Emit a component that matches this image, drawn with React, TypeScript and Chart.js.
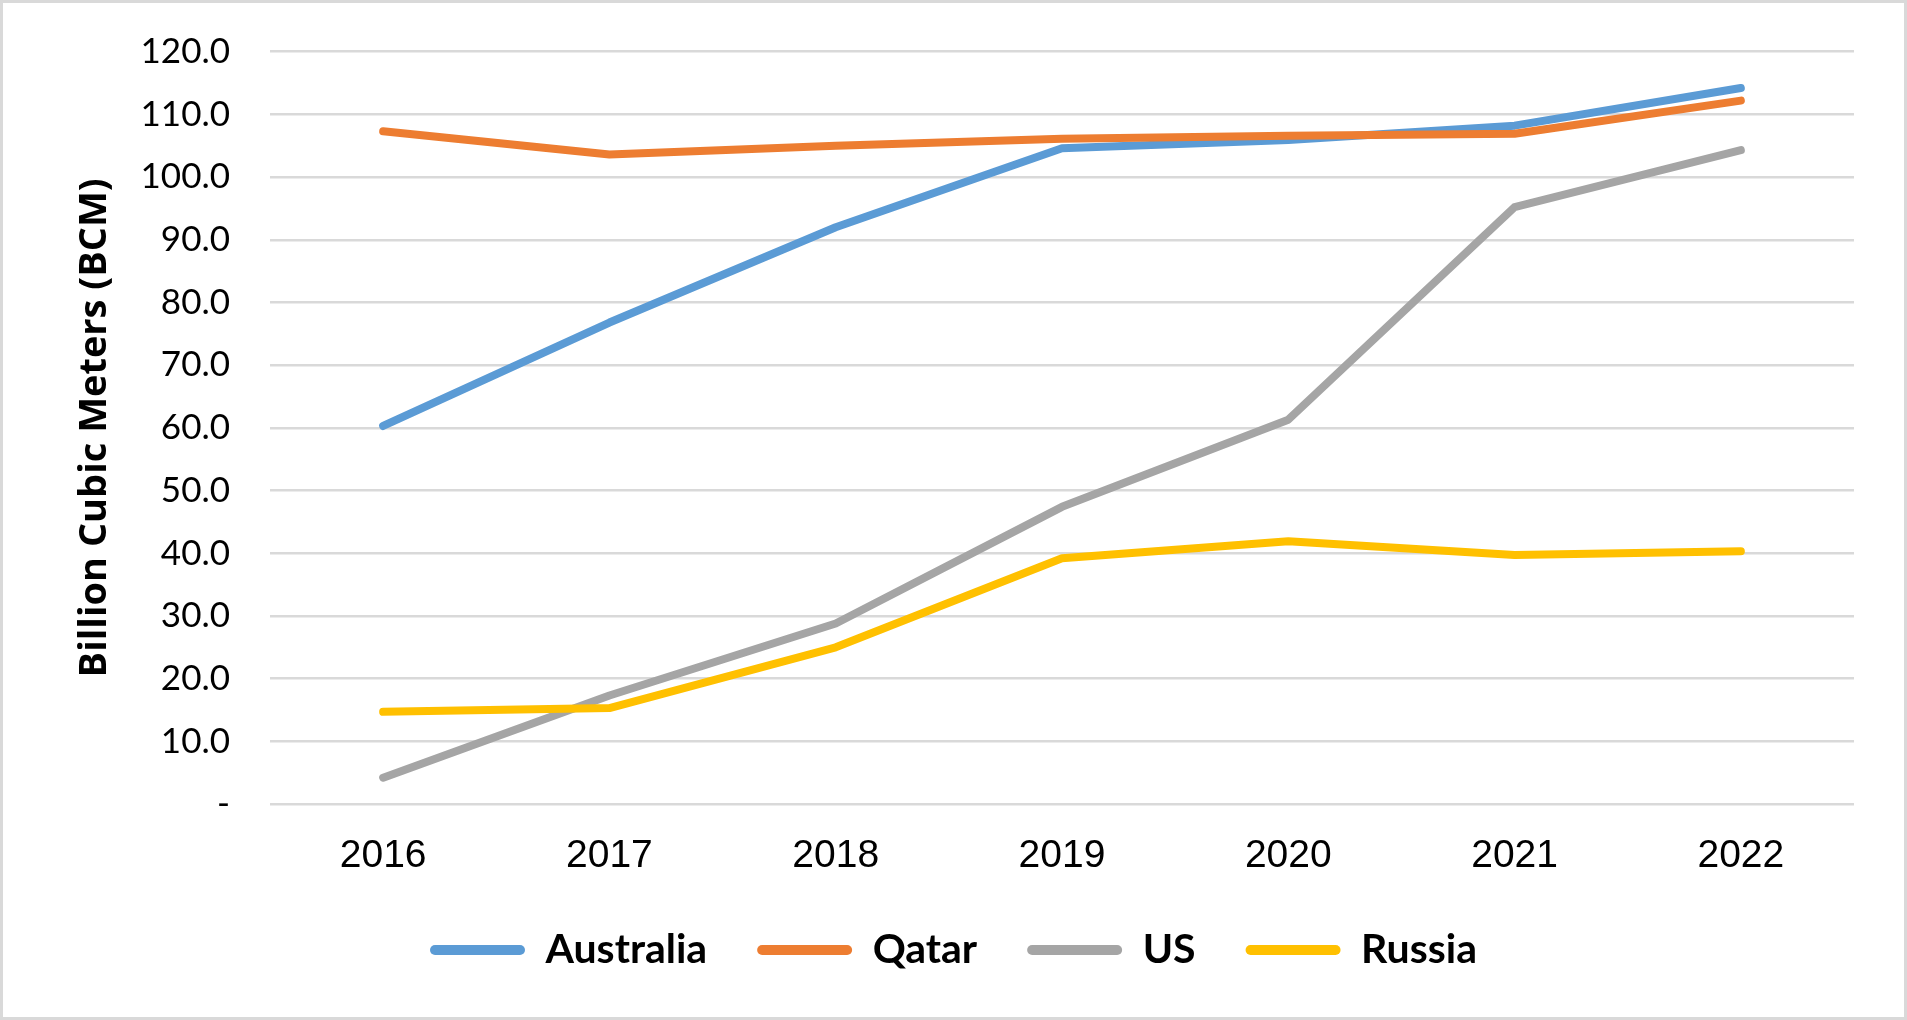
import React, { useEffect, useRef } from "react";
import { Chart, registerables } from "chart.js";

Chart.register(...registerables);

const years = ["2016", "2017", "2018", "2019", "2020", "2021", "2022"];
const australia = [60.3, 76.8, 92.0, 104.6, 105.9, 108.2, 114.2];
const qatar = [107.3, 103.6, 105.0, 106.1, 106.6, 106.9, 112.2];
const us = [4.2, 17.3, 28.8, 47.4, 61.3, 95.2, 104.3];
const russia = [14.7, 15.3, 25.0, 39.2, 41.9, 39.7, 40.3];
const seriesNames = ["Australia", "Qatar", "US", "Russia"];
const seriesColors = ["#5B9BD5", "#ED7D31", "#A5A5A5", "#FFC000"];
const yTitle = "Billion Cubic Meters (BCM)";

const W = 1907;
const H = 1020;

export default function App() {
  const ref = useRef<HTMLCanvasElement | null>(null);

  useEffect(() => {
    const canvas = ref.current;
    if (!canvas) return;
    const seriesData = [australia, qatar, us, russia];
    const datasets = seriesNames.map((name, i) => ({
      label: name,
      data: seriesData[i],
      borderColor: seriesColors[i],
      backgroundColor: seriesColors[i],
      borderWidth: 8,
      pointRadius: 0,
      pointHoverRadius: 0,
      tension: 0,
      borderCapStyle: "round" as const,
      borderJoinStyle: "round" as const,
      order: seriesNames.length - i,
    }));

    const defaultGen = (Chart.defaults as any).plugins.legend.labels.generateLabels;

    const chart = new Chart(canvas, {
      type: "line",
      data: { labels: years, datasets },
      options: {
        animation: false,
        responsive: false,
        devicePixelRatio: 1,
        layout: { padding: { top: 51.7, right: 53, bottom: 39.5, left: 53 } },
        plugins: {
          tooltip: { enabled: false },
          legend: {
            position: "bottom",
            align: "center",
            labels: {
              boxWidth: 95,
              boxHeight: 10,
              useBorderRadius: true,
              borderRadius: 5,
              padding: 50,
              color: "#000",
              font: { family: "Lato", size: 41, weight: "bold" },
              sort: (a: any, b: any) => a.datasetIndex - b.datasetIndex,
              generateLabels: (c: any) =>
                defaultGen(c).map((it: any) => ({
                  ...it,
                  lineWidth: 0,
                  fillStyle: seriesColors[it.datasetIndex],
                  strokeStyle: seriesColors[it.datasetIndex],
                  borderRadius: 5,
                })),
            },
          },
        },
        scales: {
          x: {
            type: "category",
            offset: true,
            grid: { display: false, drawTicks: false },
            border: { display: false },
            ticks: {
              padding: 29,
              color: "#000",
              font: { family: "Liberation Sans", size: 39 },
              maxRotation: 0,
            },
            afterFit: (s: any) => {
              s.height = 75.5;
            },
          },
          y: {
            min: 0,
            max: 120,
            grid: {
              color: "#D9D9D9",
              lineWidth: 2.5,
              drawTicks: true,
              tickLength: 40,
              tickColor: "rgba(0,0,0,0)",
            },
            border: { display: false },
            ticks: {
              stepSize: 10,
              padding: 0,
              color: "#000",
              font: { family: "Lato", size: 35 },
              callback: (v: any) => (Number(v) === 0 ? "-" : Number(v).toFixed(1)),
            },
            title: {
              display: true,
              text: yTitle,
              color: "#000",
              padding: { top: 19, bottom: 0 },
              font: { family: "Open Sans", size: 38, weight: "bold" },
            },
            afterFit: (s: any) => {
              s.width = 217;
            },
          },
        },
      },
    });
    return () => chart.destroy();
  }, []);

  return (
    <div style={{ position: "fixed", left: 0, top: 0, width: W, height: H, background: "#fff" }}>
      <canvas ref={ref} width={W} height={H} style={{ position: "absolute", left: 0, top: 0, width: W, height: H }} />
      <div
        style={{
          position: "absolute",
          left: 0,
          top: 0,
          width: W,
          height: H,
          boxSizing: "border-box",
          border: "3px solid #D9D9D9",
          pointerEvents: "none",
        }}
      />
    </div>
  );
}
